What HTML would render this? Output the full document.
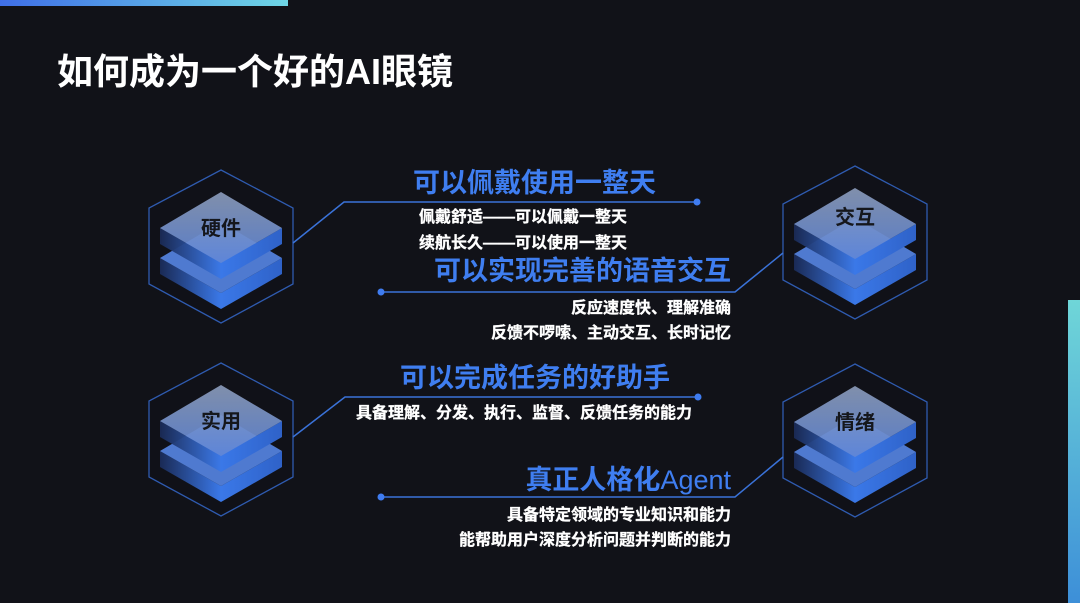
<!DOCTYPE html>
<html><head><meta charset="utf-8"><style>
html,body{margin:0;padding:0;background:#111218;}
svg{display:block}
text{font-family:"Liberation Sans","Noto Sans CJK SC",sans-serif;font-weight:bold}
</style></head><body>
<svg width="1080" height="603" viewBox="0 0 1080 603" xmlns="http://www.w3.org/2000/svg">
<defs>
<linearGradient id="tb" x1="0" x2="1"><stop offset="0" stop-color="#3f6fe8"/><stop offset="1" stop-color="#6fd6e6"/></linearGradient>
<linearGradient id="rb" x1="0" y1="0" x2="0" y2="1"><stop offset="0" stop-color="#6fd6d8"/><stop offset="1" stop-color="#3d8fd8"/></linearGradient>
<linearGradient id="sl" x1="0" x2="1"><stop offset="0" stop-color="#1a2a55"/><stop offset="1" stop-color="#3a78e8"/></linearGradient>
<linearGradient id="sr" x1="0" x2="1"><stop offset="0" stop-color="#3a78e8"/><stop offset="1" stop-color="#2f62c8"/></linearGradient>
<linearGradient id="tf" x1="0" y1="0" x2="0" y2="1"><stop offset="0" stop-color="#8a9ab8"/><stop offset="1" stop-color="#5f86d8"/></linearGradient>
<g id="node">
<polygon points="0,-76 72,-38 72,38 0,77 -72,38 -72,-38" fill="#101118" stroke="#2f5bb0" stroke-width="1.3"/>
<g transform="translate(0,30)">
<polygon points="-61,-18 0,17 0,33 -61,-2" fill="url(#sl)"/>
<polygon points="0,17 61,-18 61,-2 0,33" fill="url(#sr)"/>
<polygon points="0,-54 61,-18 0,17 -61,-18" fill="#4f7ad0"/>
</g>
<polygon points="-61,-18 0,17 0,33 -61,-2" fill="url(#sl)" opacity="0.95"/>
<polygon points="0,17 61,-18 61,-2 0,33" fill="url(#sr)"/>
<polygon points="0,-54 61,-18 0,17 -61,-18" fill="url(#tf)" opacity="0.92"/>
</g>
</defs>
<rect x="0" y="0" width="288" height="6" fill="url(#tb)"/>
<rect x="1068" y="300" width="12" height="303" fill="url(#rb)"/>
<text x="57" y="84" fill="#fff" font-size="36">如何成为一个好的AI眼镜</text>

<use href="#node" x="221" y="246"/>
<use href="#node" x="855" y="242"/>
<use href="#node" x="221" y="439"/>
<use href="#node" x="855" y="440"/>
<g font-size="20" fill="#15171c" text-anchor="middle">
<text x="221" y="235">硬件</text>
<text x="855" y="224">交互</text>
<text x="221" y="428">实用</text>
<text x="855" y="429">情绪</text>
</g>

<g stroke="#3a72d8" stroke-width="1.5" fill="none">
<polyline points="293,243 344,202 697,202"/>
<polyline points="381,292 735,292 783,253"/>
<polyline points="293,437 345,397 698,397"/>
<polyline points="381,497 735,497 783,457"/>
</g>
<g fill="#3f7cf0">
<circle cx="697" cy="202" r="3.5"/><circle cx="381" cy="292" r="3.5"/>
<circle cx="698" cy="397" r="3.5"/><circle cx="381" cy="497" r="3.5"/>
</g>

<g fill="#3f7ef0" font-size="27">
<text x="413" y="192">可以佩戴使用一整天</text>
<text x="731" y="280" text-anchor="end">可以实现完善的语音交互</text>
<text x="400" y="387">可以完成任务的好助手</text>
<text x="731" y="489" text-anchor="end">真正人格化<tspan font-weight="normal">Agent</tspan></text>
</g>
<g fill="#fff" font-size="16" stroke="#fff" stroke-width="0.3">
<text x="419" y="222">佩戴舒适——可以佩戴一整天</text>
<text x="419" y="248">续航长久——可以使用一整天</text>
<text x="731" y="313" text-anchor="end">反应速度快、理解准确</text>
<text x="731" y="338" text-anchor="end">反馈不啰嗦、主动交互、长时记忆</text>
<text x="356" y="418">具备理解、分发、执行、监督、反馈任务的能力</text>
<text x="731" y="520" text-anchor="end">具备特定领域的专业知识和能力</text>
<text x="731" y="545" text-anchor="end">能帮助用户深度分析问题并判断的能力</text>
</g>
</svg>
</body></html>
